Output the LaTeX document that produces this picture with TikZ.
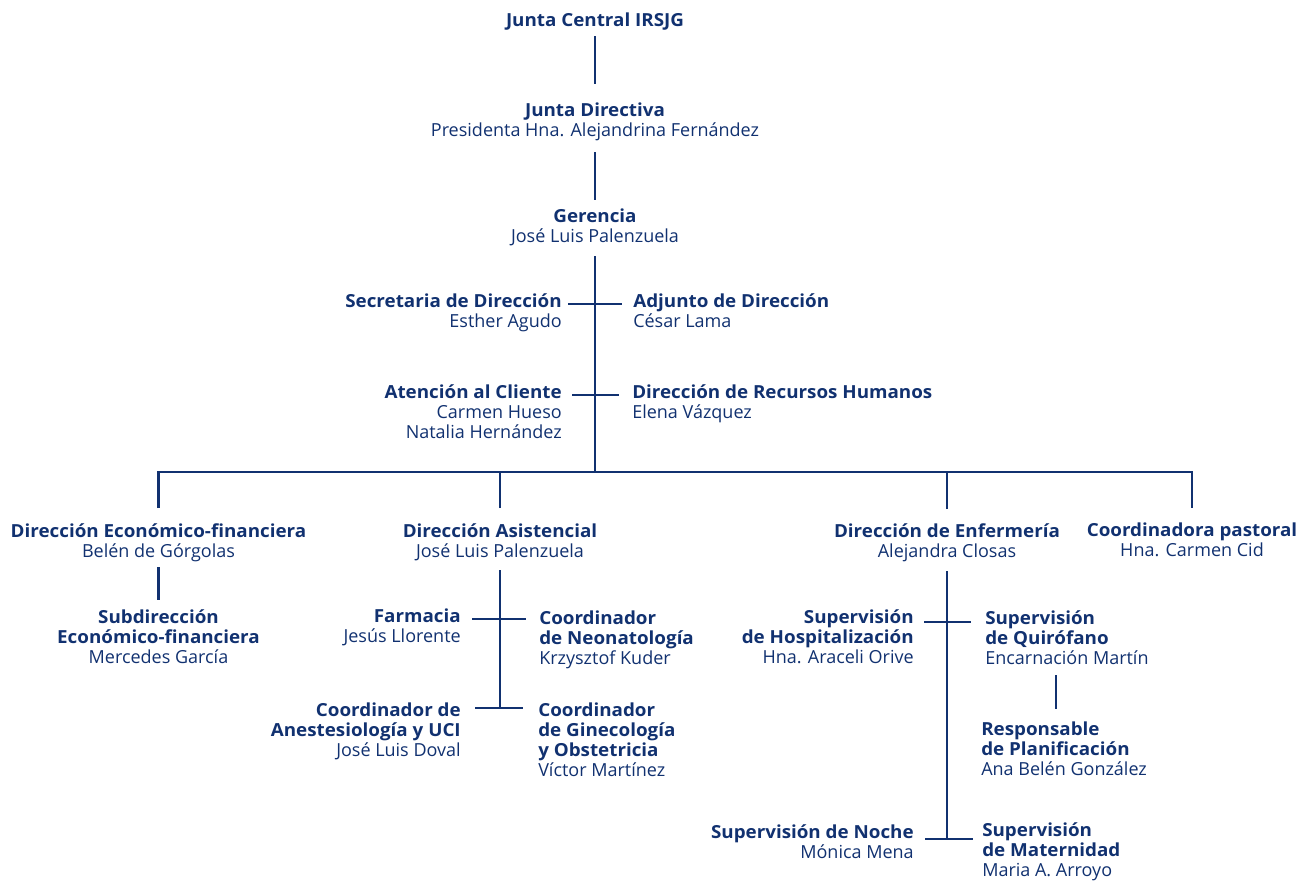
\documentclass[tikz,border=0pt]{standalone}
\usepackage{fontspec}
\setmainfont{Open Sans}[BoldFeatures={FakeStretch=1.045}]
\usetikzlibrary{positioning}
\definecolor{irsjgBlue}{RGB}{17,49,112}
\newcommand{\stackC}[1]{\begin{tabular}[t]{@{}c@{}}#1\end{tabular}}
\newcommand{\stackL}[1]{\begin{tabular}[t]{@{}l@{}}#1\end{tabular}}
\newcommand{\stackR}[1]{\begin{tabular}[t]{@{}r@{}}#1\end{tabular}}

\begin{document}
\begin{tikzpicture}[x=0.75pt, y=-0.75pt]
    \tikzstyle{unit} = [inner sep=0pt, text=irsjgBlue, font=\fontsize{13.5}{15}\selectfont]
    \tikzstyle{unitC} = [unit, anchor=base]
    \tikzstyle{unitL} = [unit, anchor=base west]
    \tikzstyle{unitR} = [unit, anchor=base east]
    \tikzstyle{link} = [draw=irsjgBlue, line width=1.9pt]
    \useasboundingbox (0,0) rectangle (1315,883);

    % top of the chart
    \node[unitC] (jc) at (595,26) {\textbf{Junta Central IRSJG}};
    \node[unitC] (jd) at (595,116.7) {\stackC{\textbf{Junta Directiva}\\Presidenta Hna. Alejandrina Fernández}};
    \node[unitC] (ger) at (595,222.7) {\stackC{\textbf{Gerencia}\\José Luis Palenzuela}};

    \node[unitR] (secr) at (562,307) {\stackR{\textbf{Secretaria de Dirección}\\Esther Agudo}};
    \node[unitL] (adj) at (633,307) {\stackL{\textbf{Adjunto de Dirección}\\César Lama}};
    \node[unitR] (aten) at (562,398) {\stackR{\textbf{Atención al Cliente}\\Carmen Hueso\\Natalia Hernández}};
    \node[unitL] (rrhh) at (632,398) {\stackL{\textbf{Dirección de Recursos Humanos}\\Elena Vázquez}};

    % direcciones
    \node[unitC] (def) at (158.5,537) {\stackC{\textbf{Dirección Económico-financiera}\\Belén de Górgolas}};
    \node[unitC] (asis) at (500,537) {\stackC{\textbf{Dirección Asistencial}\\José Luis Palenzuela}};
    \node[unitC] (enf) at (947,537) {\stackC{\textbf{Dirección de Enfermería}\\Alejandra Closas}};
    \node[unitC] (pas) at (1192,536) {\stackC{\textbf{Coordinadora pastoral}\\Hna. Carmen Cid}};

    \node[unitC] (sub) at (158.5,623) {\stackC{\textbf{Subdirección}\\\textbf{Económico-financiera}\\Mercedes García}};

    \node[unitR] (farm) at (461,622) {\stackR{\textbf{Farmacia}\\Jesús Llorente}};
    \node[unitL] (neo) at (539,624) {\stackL{\textbf{Coordinador}\\\textbf{de Neonatología}\\Krzysztof Kuder}};
    \node[unitR] (anes) at (461,716) {\stackR{\textbf{Coordinador de}\\\textbf{Anestesiología y UCI}\\José Luis Doval}};
    \node[unitL] (gine) at (538,716) {\stackL{\textbf{Coordinador}\\\textbf{de Ginecología}\\\textbf{y Obstetricia}\\Víctor Martínez}};

    \node[unitR] (hosp) at (914,623) {\stackR{\textbf{Supervisión}\\\textbf{de Hospitalización}\\Hna. Araceli Orive}};
    \node[unitL] (quir) at (985,624) {\stackL{\textbf{Supervisión}\\\textbf{de Quirófano}\\Encarnación Martín}};
    \node[unitL] (resp) at (981,735) {\stackL{\textbf{Responsable}\\\textbf{de Planificación}\\Ana Belén González}};
    \node[unitR] (noche) at (914,838) {\stackR{\textbf{Supervisión de Noche}\\Mónica Mena}};
    \node[unitL] (mat) at (982,836) {\stackL{\textbf{Supervisión}\\\textbf{de Maternidad}\\Maria A. Arroyo}};

    % connectors
    \draw[link] ([shift={(0,10)}]jc.base) -- ([shift={(0,-32.7)}]jd.base);
    \draw[link] ([shift={(0,35.3)}]jd.base) -- ([shift={(0,-22.7)}]ger.base);
    \coordinate (bar) at (595,472);
    \draw[link] ([shift={(0,33.3)}]ger.base) -- (bar);
    \draw[link] ([shift={(6,-3)}]secr.base east) -- ([shift={(-11,-3)}]adj.base west);
    \draw[link] ([shift={(10,-3)}]aten.base east) -- ([shift={(-13,-3)}]rrhh.base west);

    \draw[link] ([shift={(0,-29)}]def.base) |- (bar) -| ([shift={(0,-28)}]pas.base);
    \draw[link] ([shift={(0,-29)}]asis.base) -- (asis.base |- bar);
    \draw[link] ([shift={(0,-28)}]enf.base) -- (enf.base |- bar);

    \draw[link] ([shift={(0,30)}]def.base) -- ([shift={(0,-23)}]sub.base);

    \draw[link] ([shift={(11,-3)}]farm.base east) -- ([shift={(-13,-5)}]neo.base west);
    \draw[link] ([shift={(14,-8)}]anes.base east) coordinate (anesL) -- ([shift={(-15,-8)}]gine.base west);
    \draw[link] ([shift={(0,33)}]asis.base) -- (asis.base |- anesL);

    \draw[link] ([shift={(10,-1)}]hosp.base east) -- ([shift={(-14,-2)}]quir.base west);
    \draw[link] ([shift={(11,1)}]noche.base east) coordinate (nocheL) -- ([shift={(-9,3)}]mat.base west);
    \draw[link] ([shift={(0,34)}]enf.base) -- (enf.base |- nocheL);
    \draw[link] ([shift={(71,51)}]quir.base west) -- ([shift={(75,-26)}]resp.base west);
\end{tikzpicture}
\end{document}
